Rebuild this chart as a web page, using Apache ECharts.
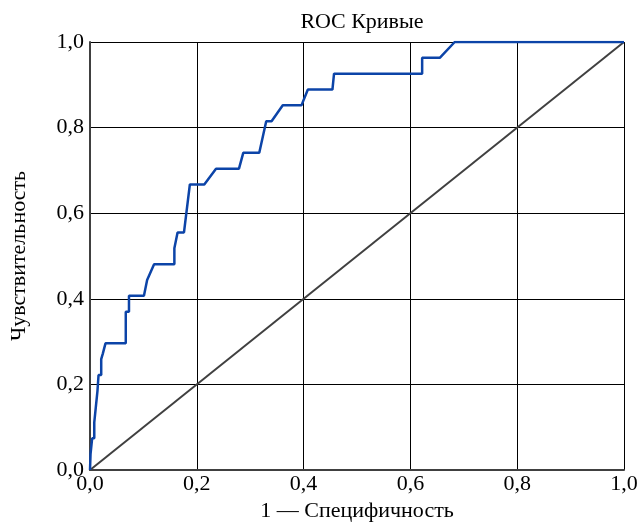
<!DOCTYPE html>
<html>
<head>
<meta charset="utf-8">
<script src="https://cdn.jsdelivr.net/npm/echarts@6/dist/echarts.min.js"></script>
<style>
	html, body { margin: 0; padding: 0; background: #fff; }
	#main { width: 637px; height: 523px; }
</style>
</head>
<body>
<div id="main"></div>
<script>
// ROC кривая: 1 - специфичность / чувствительность
var fpr = [0, 0.001, 0.001, 0.004, 0.004, 0.008, 0.008, 0.011, 0.011, 0.014, 0.016, 0.016, 0.021, 0.021, 0.024, 0.029,
	0.067, 0.067, 0.073, 0.073, 0.101, 0.107, 0.12, 0.158, 0.158, 0.164, 0.176, 0.187, 0.214, 0.236, 0.279, 0.287,
	0.317, 0.33, 0.34, 0.361, 0.396, 0.408, 0.454, 0.457, 0.622, 0.622, 0.655, 0.683, 1];
var tpr = [0, 0, 0.037, 0.037, 0.074, 0.074, 0.111, 0.111, 0.148, 0.185, 0.185, 0.222, 0.222, 0.259, 0.272, 0.296,
	0.296, 0.37, 0.37, 0.407, 0.407, 0.444, 0.481, 0.481, 0.518, 0.555, 0.555, 0.667, 0.667, 0.704, 0.704, 0.741,
	0.741, 0.815, 0.815, 0.852, 0.852, 0.889, 0.889, 0.926, 0.926, 0.963, 0.963, 1, 1];
// диагональ
var diagX = [0, 1];
var diagY = [0, 1];

var rocData = fpr.map(function(v, i) { return [v, tpr[i]]; });
var diagData = diagX.map(function(v, i) { return [v, diagY[i]]; });

var font = "'Liberation Serif', 'DejaVu Serif', serif";
var labelFmt = function(v) { return v.toFixed(1).replace('.', ','); };

var myChart = echarts.init(document.getElementById('main'));
var option = {
	animation: false,
	title: {
		text: 'ROC Кривые',
		left: 357,
		top: 6,
		textAlign: 'center',
		textStyle: { fontFamily: font, fontSize: 22, fontWeight: 'normal', color: '#000' }
	},
	grid: { left: 90, right: 13, top: 42, bottom: 53, containLabel: false, outerBoundsMode: 'none' },
	xAxis: {
		type: 'value',
		min: 0, max: 1, interval: 0.2,
		name: '1 — Специфичность',
		nameLocation: 'middle',
		nameGap: 28,
		nameTextStyle: { fontFamily: font, fontSize: 22, color: '#000' },
		axisLine: { lineStyle: { color: '#404040', width: 2 } },
		axisTick: { show: false },
		axisLabel: { formatter: labelFmt, fontFamily: font, fontSize: 22, color: '#000', margin: 3 },
		splitLine: { lineStyle: { color: '#000', width: 1 } }
	},
	yAxis: {
		type: 'value',
		min: 0, max: 1, interval: 0.2,
		name: 'Чувствительность',
		nameLocation: 'middle',
		nameGap: 60,
		nameTextStyle: { fontFamily: font, fontSize: 22, color: '#000' },
		axisLine: { lineStyle: { color: '#404040', width: 2 } },
		axisTick: { show: false },
		axisLabel: { formatter: labelFmt, fontFamily: font, fontSize: 22, color: '#000', margin: 6 },
		splitLine: { lineStyle: { color: '#000', width: 1 } }
	},
	series: [{
			name: 'diag',
			type: 'line',
			data: diagData,
			symbol: 'none',
			lineStyle: { color: '#404040', width: 2 }
		},
		{
			name: 'ROC',
			type: 'line',
			data: rocData,
			symbol: 'none',
			lineStyle: { color: '#0c44a8', width: 2.5 }
		}
	]
};
myChart.setOption(option);
</script>
</body>
</html>
